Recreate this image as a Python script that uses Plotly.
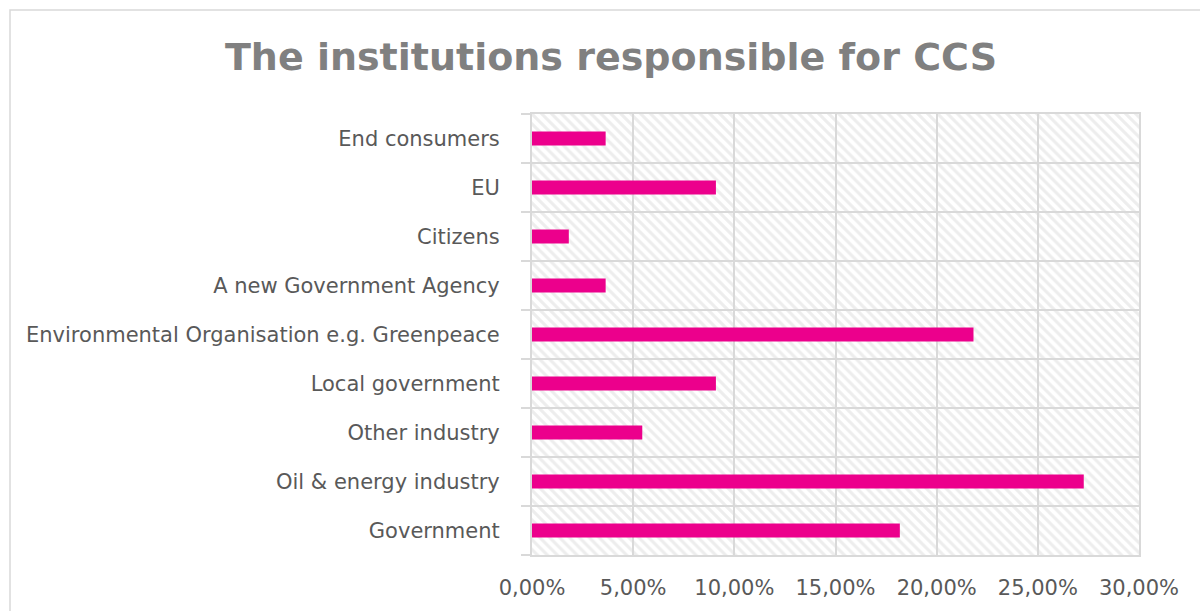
import plotly.graph_objects as go

categories = [
    "Government",
    "Oil & energy industry",
    "Other industry",
    "Local government",
    "Environmental Organisation e.g. Greenpeace",
    "A new Government Agency",
    "Citizens",
    "EU",
    "End consumers",
]
shares = [0.1818, 0.2727, 0.0545, 0.0909, 0.2182, 0.0364, 0.0182, 0.0909, 0.0364]
x_ticks = [0, 0.05, 0.10, 0.15, 0.20, 0.25, 0.30]

W, H = 1200, 611
ML, MR, MT, MB = 532, 61, 114, 56
PW, PH = W - ML - MR, H - MT - MB

FONT = "DejaVu Sans"
GRID = "#d9d9d9"

fig = go.Figure()

# hatched plot-area background on a hidden subplot drawn underneath
fig.add_trace(go.Bar(
    x=[1], y=[0.5], width=[1], orientation="h",
    marker=dict(color="white", line=dict(width=0),
                pattern=dict(shape="\\", fgcolor="#dcdcdc", bgcolor="white",
                             size=7, solidity=0.45)),
    xaxis="x", yaxis="y", hoverinfo="skip", showlegend=False,
))

fig.add_trace(go.Bar(
    x=shares, y=categories, orientation="h",
    marker=dict(color="#EC008C", line=dict(width=0)),
    xaxis="x2", yaxis="y2", showlegend=False,
))

fig.update_layout(
    width=W, height=H,
    margin=dict(l=ML, r=MR, t=MT, b=MB),
    paper_bgcolor="white", plot_bgcolor="rgba(0,0,0,0)",
    separators=",.",
    bargap=0.71,
    font=dict(family=FONT, color="#595959", size=21),
    title=dict(
        text="<b>The institutions responsible for CCS</b>",
        font=dict(family=FONT, size=38, color="#808080"),
        x=611 / W, xanchor="center", xref="container",
        y=1 - 57 / H, yanchor="middle", yref="container",
    ),
    xaxis=dict(domain=[0, 1], range=[0, 1], visible=False, fixedrange=True),
    yaxis=dict(domain=[0, 1], range=[0, 1], visible=False, fixedrange=True),
    xaxis2=dict(
        domain=[0, 1], anchor="y2", range=[0, 0.30],
        tickvals=x_ticks, tickformat=".2%",
        showgrid=True, gridcolor=GRID, gridwidth=2,
        showline=True, linecolor=GRID, linewidth=2, mirror=True,
        zeroline=False, ticks="", ticklabelstandoff=13,
        tickfont=dict(size=21, color="#595959"),
    ),
    yaxis2=dict(
        domain=[0, 1], anchor="x2", type="category",
        categoryorder="array", categoryarray=categories,
        tickson="boundaries", ticks="outside", ticklen=9, tickcolor=GRID, tickwidth=2,
        showgrid=True, gridcolor=GRID, gridwidth=2,
        showline=True, linecolor=GRID, linewidth=2, mirror=True,
        ticklabelstandoff=26,
        tickfont=dict(size=21, color="#595959"),
    ),
)

# outer chart border (Excel chart area)
fig.add_shape(
    type="rect", xref="paper", yref="paper",
    x0=(10 - ML) / PW, x1=(1205 - ML) / PW,
    y0=1 - (620 - MT) / PH, y1=1 + (MT - 10) / PH,
    line=dict(color=GRID, width=1.5), fillcolor="rgba(0,0,0,0)", layer="below",
)

fig.write_html("out.html")
